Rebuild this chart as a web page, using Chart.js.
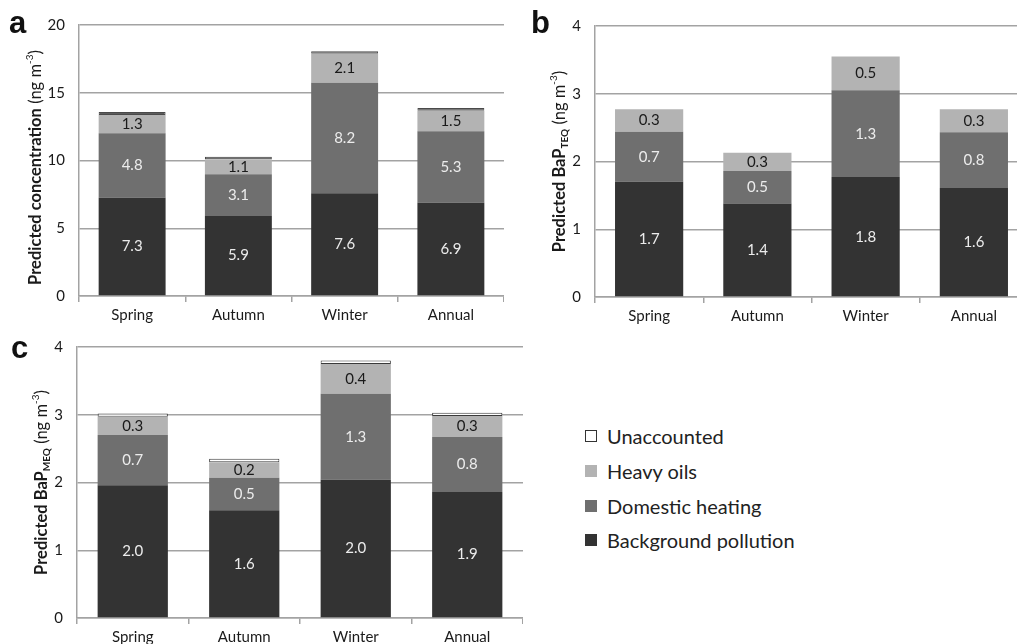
<!DOCTYPE html>
<html>
<head>
<meta charset="utf-8">
<script src="https://cdn.jsdelivr.net/npm/chart.js@4.4.1/dist/chart.umd.min.js"></script>
<style>
  html, body { margin: 0; padding: 0; width: 1017px; height: 644px; overflow: hidden; background: #fff; }
  canvas { position: absolute; }
  #legend { position: absolute; left: 585px; top: 419px; font-family: Lato, "Open Sans", sans-serif; font-size: 20px; color: #222; }
  .row { height: 34.7px; display: flex; align-items: center; }
  .box { width: 12px; height: 12px; margin-right: 10px; box-sizing: border-box; }
</style>
</head>
<body>
<canvas id="ca" width="504" height="326" style="left:0px;top:0px"></canvas>
<canvas id="cb" width="518" height="326" style="left:510px;top:1px"></canvas>
<canvas id="cc" width="523" height="326" style="left:0px;top:322px"></canvas>
<div id="legend"></div>
<script>
// ---- Data ----
const categories = ['Spring', 'Autumn', 'Winter', 'Annual'];
const seriesNames = ['Background pollution', 'Domestic heating', 'Heavy oils', 'Unaccounted'];

const aBackground = [7.26, 5.90, 7.58, 6.89];
const aDomestic   = [4.76, 3.08, 8.16, 5.26];
const aHeavy      = [1.34, 1.11, 2.14, 1.52];
const aUnacc      = [0.22, 0.19, 0.18, 0.20];

const bBackground = [1.70, 1.38, 1.77, 1.61];
const bDomestic   = [0.74, 0.48, 1.28, 0.82];
const bHeavy      = [0.33, 0.27, 0.50, 0.34];

const cBackground = [1.96, 1.59, 2.04, 1.86];
const cDomestic   = [0.74, 0.48, 1.27, 0.81];
const cHeavy      = [0.27, 0.23, 0.44, 0.31];
const cUnacc      = [0.05, 0.05, 0.05, 0.05];

const aTicks = [0, 5, 10, 15, 20];
const bTicks = [0, 1, 2, 3, 4];
const cTicks = [0, 1, 2, 3, 4];

// ---- Styles ----
const FONT = 'Lato, "Open Sans", sans-serif';
const seriesColors = ['#333333', '#6f6f6f', '#b3b3b3', '#ffffff'];
const labelColors = ['#ececec', '#ececec', '#1a1a1a', null];
const GRID = '#a3a3a3';

const valueLabels = {
  id: 'valueLabels',
  afterDatasetsDraw(chart) {
    const ctx = chart.ctx;
    ctx.save();
    ctx.font = '15px ' + FONT;
    ctx.textAlign = 'center';
    ctx.textBaseline = 'middle';
    chart.data.datasets.forEach((ds, i) => {
      if (!labelColors[i]) return;
      const meta = chart.getDatasetMeta(i);
      meta.data.forEach((bar, j) => {
        const v = ds.data[j];
        if (!v) return;
        const p = bar.getProps(['x', 'y', 'base'], true);
        ctx.fillStyle = labelColors[i];
        ctx.fillText(v.toFixed(1), p.x, (p.y + p.base) / 2);
      });
    });
    ctx.restore();
  }
};

const decor = {
  id: 'decor',
  afterDraw(chart, args, opts) {
    const ctx = chart.ctx;
    ctx.save();
    ctx.fillStyle = '#111';
    ctx.font = 'bold 31px "Liberation Sans", Arial, sans-serif';
    ctx.textBaseline = 'alphabetic';
    ctx.textAlign = 'left';
    ctx.fillText(opts.letter, opts.letterX, opts.letterY);
    // rotated axis title
    const parts = opts.title;
    let total = 0;
    parts.forEach(p => {
      ctx.font = (p.b ? 'bold ' : '') + p.s + 'px ' + FONT;
      p.w = ctx.measureText(p.t).width;
      total += p.w;
    });
    const cy = (chart.chartArea.top + chart.chartArea.bottom) / 2 + (opts.dy || 0);
    ctx.translate(opts.titleX, cy);
    ctx.rotate(-Math.PI / 2);
    ctx.fillStyle = '#1a1a1a';
    ctx.textBaseline = 'middle';
    let x = -total / 2;
    parts.forEach(p => {
      ctx.font = (p.b ? 'bold ' : '') + p.s + 'px ' + FONT;
      ctx.fillText(p.t, x, p.o || 0);
      x += p.w;
    });
    ctx.restore();
  }
};

function makeDatasets(bg, dom, heavy, unacc, capFill, capBorder) {
  const sets = [bg, dom, heavy].map((d, i) => ({
    label: seriesNames[i], data: d, backgroundColor: seriesColors[i], borderWidth: 0
  }));
  if (unacc) {
    sets.push({
      label: seriesNames[3], data: unacc, backgroundColor: capFill,
      borderColor: capBorder, borderWidth: 1, borderSkipped: false
    });
  }
  return sets;
}

function makeChart(id, datasets, ticks, yWidth, decorOpts) {
  return new Chart(document.getElementById(id), {
    type: 'bar',
    data: { labels: categories, datasets },
    options: {
      responsive: false,
      animation: false,
      layout: { padding: { top: 25, right: 0, bottom: 0, left: 0 } },
      datasets: { bar: { categoryPercentage: 1.0, barPercentage: 0.63 } },
      plugins: { legend: { display: false }, tooltip: { enabled: false }, decor: decorOpts },
      scales: {
        x: {
          stacked: true,
          afterFit: s => { s.height = 30; },
          grid: { offset: true, drawOnChartArea: false, drawTicks: true, tickLength: 6, color: GRID, lineWidth: 1.5 },
          border: { display: true, color: GRID, width: 1.5 },
          ticks: { color: '#1a1a1a', font: { family: FONT, size: 15 }, padding: 4 }
        },
        y: {
          stacked: true,
          min: ticks[0], max: ticks[ticks.length - 1],
          afterFit: s => { s.width = yWidth; },
          afterBuildTicks: s => { s.ticks = ticks.map(v => ({ value: v })); },
          grid: { drawTicks: false, color: GRID, lineWidth: 1.5 },
          border: { display: true, color: GRID, width: 1.5 },
          ticks: { color: '#1a1a1a', font: { family: FONT, size: 15 }, padding: 14 }
        }
      }
    },
    plugins: [valueLabels, decor]
  });
}

const unitsParts = [
  { t: ' (ng m', s: 16.5 }, { t: '-3', s: 10, o: -6 }, { t: ')', s: 16.5 }
];

makeChart('ca', makeDatasets(aBackground, aDomestic, aHeavy, aUnacc, '#5c5c5c', '#4a4a4a'), aTicks, 79, {
  letter: 'a', letterX: 9, letterY: 33, titleX: 36, dy: 7,
  title: [{ t: 'Predicted concentration', s: 16.5, b: true }].concat(unitsParts)
});

makeChart('cb', makeDatasets(bBackground, bDomestic, bHeavy, null), bTicks, 85, {
  letter: 'b', letterX: 21, letterY: 32, titleX: 50, dy: 0,
  title: [{ t: 'Predicted BaP', s: 16.5, b: true }, { t: 'TEQ', s: 10, b: true, o: 5 }].concat(unitsParts)
});

makeChart('cc', makeDatasets(cBackground, cDomestic, cHeavy, cUnacc, '#ffffff', '#3a3a3a'), cTicks, 77, {
  letter: 'c', letterX: 11, letterY: 36, titleX: 42, dy: 0,
  title: [{ t: 'Predicted BaP', s: 16.5, b: true }, { t: 'MEQ', s: 10, b: true, o: 5 }].concat(unitsParts)
});

// ---- Shared legend ----
const legend = document.getElementById('legend');
[3, 2, 1, 0].forEach(i => {
  const row = document.createElement('div');
  row.className = 'row';
  const box = document.createElement('div');
  box.className = 'box';
  box.style.background = seriesColors[i];
  if (i === 3) box.style.border = '1.5px solid #333';
  const txt = document.createElement('span');
  txt.textContent = seriesNames[i];
  row.appendChild(box);
  row.appendChild(txt);
  legend.appendChild(row);
});
</script>
</body>
</html>
